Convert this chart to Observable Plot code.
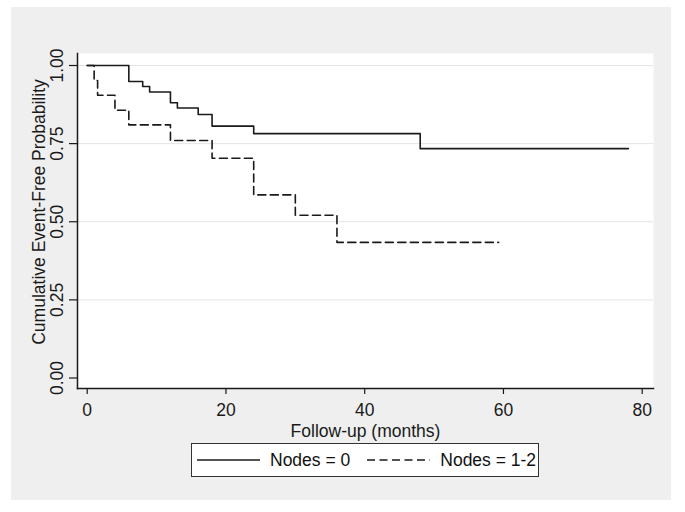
<!DOCTYPE html>
<html>
<head>
<meta charset="utf-8">
<script src="https://cdn.jsdelivr.net/npm/d3@7"></script>
<script src="https://cdn.jsdelivr.net/npm/@observablehq/plot@0.6"></script>
<style>
  body { margin: 0; background: #fff; font-family: "Liberation Sans", Arial, sans-serif; }
  #wrap { position: relative; width: 685px; height: 512px; background: #fff; overflow: hidden; }
  #panel { position: absolute; left: 11px; top: 7px; width: 660px; height: 493px; background: #efefef; }
  #chart { position: absolute; left: 0; top: 0; }
  #legend { position: absolute; left: 191px; top: 443px; width: 346px; height: 32px; border: 1.5px solid #333;
            background: #fff; display: flex; align-items: center; font-size: 17.5px; color: #111; white-space: nowrap; }
  #legend svg { display: block; }
</style>
</head>
<body>
<div id="wrap">
  <div id="panel"></div>
  <div id="chart"></div>
  <div id="legend"></div>
</div>
<script>
// ---- data ----
const seriesNames = ["Nodes = 0", "Nodes = 1-2"];
const time0 = [0, 6, 8, 9, 12, 13, 16, 18, 24, 48, 78];
const surv0 = [1, 0.949, 0.933, 0.915, 0.881, 0.864, 0.843, 0.806, 0.782, 0.734, 0.734];
const time12 = [0, 1, 1.5, 4, 6, 12, 18, 24, 30, 36, 59.3];
const surv12 = [1, 0.952, 0.905, 0.857, 0.810, 0.760, 0.703, 0.586, 0.521, 0.434, 0.434];
const xTicks = [0, 20, 40, 60, 80];
const yTicks = [0, 0.25, 0.5, 0.75, 1];
const yTickLabels = ["0.00", "0.25", "0.50", "0.75", "1.00"];
const gridValues = [0.25, 0.5, 0.75, 1];
const xTitle = "Follow-up (months)";
const yTitle = "Cumulative Event-Free Probability";

const rows0 = time0.map((t, i) => ({t, s: surv0[i], group: seriesNames[0]}));
const rows12 = time12.map((t, i) => ({t, s: surv12[i], group: seriesNames[1]}));

const ink = "#1a1a1a";
const fs = 17.5;
const dash = "8,4.5";

const chart = Plot.plot({
  width: 685,
  height: 512,
  marginLeft: 77,
  marginRight: 32,
  marginTop: 53,
  marginBottom: 124,
  style: {background: "transparent", fontFamily: "'Liberation Sans', Arial, sans-serif", fontSize: fs + "px", color: ink},
  x: {domain: [0, 80], range: [86.7, 641.7]},
  y: {domain: [0, 1], range: [377.5, 65]},
  marks: [
    Plot.frame({fill: "#fff", stroke: "none"}),
    Plot.ruleY(gridValues, {stroke: "#e4e4e4", strokeWidth: 1}),
    Plot.frame({anchor: "bottom", stroke: ink, strokeWidth: 1.5}),
    Plot.frame({anchor: "left", stroke: ink, strokeWidth: 1.5}),
    Plot.axisX({ticks: xTicks, tickSize: 6, tickFormat: () => "", label: null, stroke: ink, strokeWidth: 1.2}),
    Plot.axisY({ticks: yTicks, tickSize: 8, tickFormat: () => "", label: null, stroke: ink, strokeWidth: 1.2}),
    Plot.text(xTicks, {x: d => d, text: d => String(d), frameAnchor: "bottom", dy: 22, lineAnchor: "middle", fontSize: fs, fill: ink}),
    Plot.text(yTicks, {y: d => d, text: (d, i) => yTickLabels[i], frameAnchor: "left", dx: -20, rotate: -90, textAnchor: "middle", lineAnchor: "middle", fontSize: fs, fill: ink}),
    Plot.text([xTitle], {frameAnchor: "bottom", dy: 43, lineAnchor: "middle", fontSize: fs, fill: ink}),
    Plot.text([yTitle], {frameAnchor: "left", dx: -38, dy: -9, rotate: -90, textAnchor: "middle", lineAnchor: "middle", fontSize: fs, fill: ink}),
    Plot.line(rows0, {x: "t", y: "s", curve: "step-after", stroke: ink, strokeWidth: 1.6}),
    Plot.line(rows12, {x: "t", y: "s", curve: "step-after", stroke: ink, strokeWidth: 1.6, strokeDasharray: dash})
  ]
});
document.getElementById("chart").appendChild(chart);

// legend
const legend = document.getElementById("legend");
function swatch(d) {
  const s = d3.create("svg").attr("width", 64).attr("height", 10);
  s.append("line").attr("x1", 0).attr("x2", 63).attr("y1", 5).attr("y2", 5)
    .attr("stroke", ink).attr("stroke-width", 1.5).attr("stroke-dasharray", d);
  return s.node();
}
const items = [{name: seriesNames[0], dash: null}, {name: seriesNames[1], dash: dash}];
items.forEach((it, i) => {
  const sw = swatch(it.dash);
  sw.style.marginLeft = i === 0 ? "5px" : "17px";
  legend.appendChild(sw);
  const sp = document.createElement("span");
  sp.textContent = it.name;
  sp.style.marginLeft = "9px";
  legend.appendChild(sp);
});
</script>
</body>
</html>
